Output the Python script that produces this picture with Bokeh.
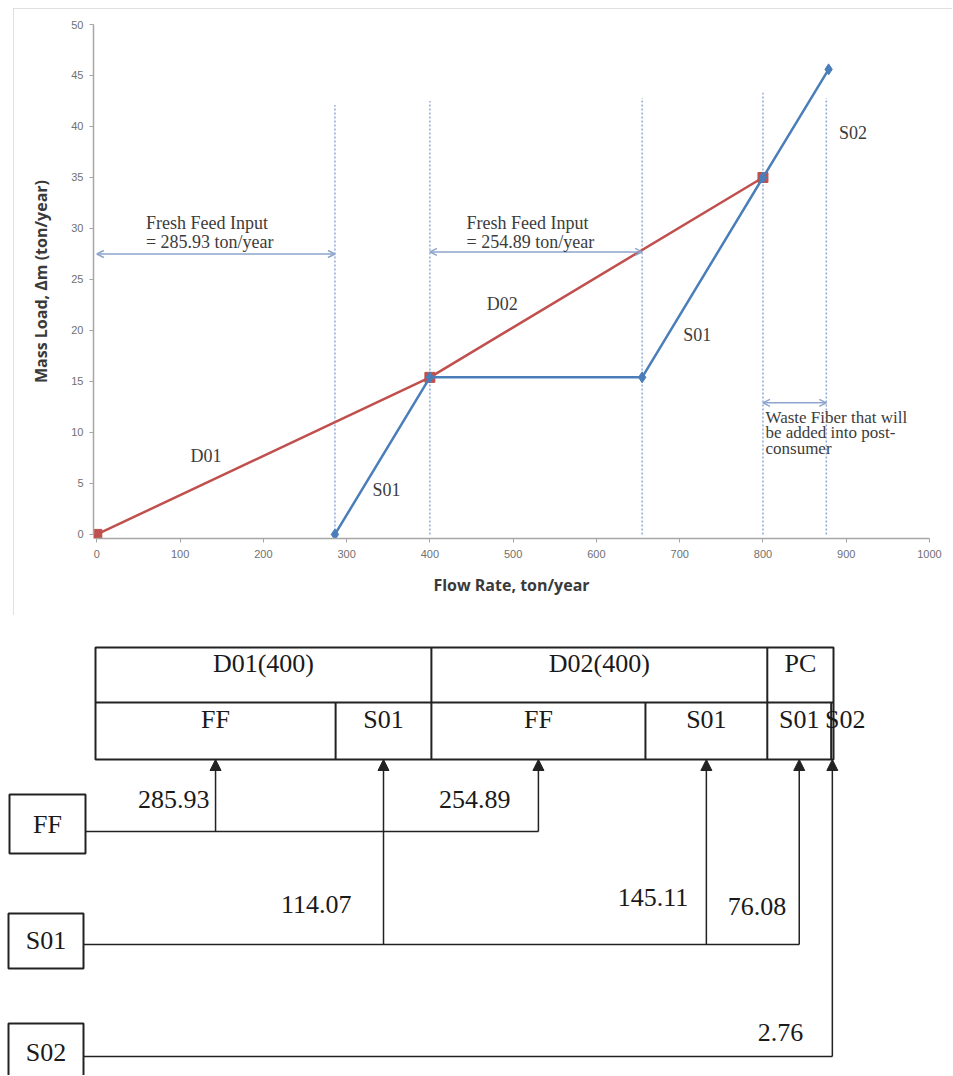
import numpy as np
from bokeh.plotting import figure
from bokeh.models import Range1d, Arrow, OpenHead, NormalHead, Label, FixedTicker
from bokeh.layouts import column
from bokeh.embed import file_html
from bokeh.resources import INLINE
from bokeh.core.properties import value

# ---------------- data: mass-load / flow-rate diagram ----------------
demand_flow = [0, 400, 800]
demand_load = [0, 15.4, 35.0]
source_flow = [285.93, 400, 654.89, 800, 878.84]
source_load = [0, 15.4, 15.4, 35.0, 45.6]
pinch_flow = [285.93, 400, 654.89, 800, 876.08]
pinch_top = [42.1, 42.5, 42.8, 43.3, 42.8]
x_ticks = [0, 100, 200, 300, 400, 500, 600, 700, 800, 900, 1000]
y_ticks = [0, 5, 10, 15, 20, 25, 30, 35, 40, 45, 50]
fresh_feed = [285.93, 254.89]
waste_span = [800, 876.08]

# ---------------- data: allocation diagram ----------------
cell_labels = ["FF", "S01", "FF", "S01", "S01", "S02"]
cell_flows = [285.93, 114.07, 254.89, 145.11, 76.08, 2.76]
unit_labels = ["D01(400)", "D02(400)", "PC"]
unit_flows = [400, 400, 78.84]
source_labels = ["FF", "S01", "S02"]

# ---------------- styles ----------------
RED = "#C0504D"
BLUE = "#4A7EBB"
GUIDE = "#8FA9D6"
ARR = "#8EA5CE"
TXT = "#3c3c3c"
AX = "#a6a6a6"
SERIF = "Liberation Serif"

# ================= top chart =================
p = figure(width=939, height=607, x_range=Range1d(-4, 1000), y_range=Range1d(-0.4, 50),
           output_backend="svg", toolbar_location=None,
           min_border_left=80, min_border_right=23, min_border_top=16, min_border_bottom=77,
           margin=(8, 0, 0, 13), frame_align=False)
p.styles = {"outline": "2px solid #d6d6d6", "outline-offset": "-2px"}
p.outline_line_color = None
p.xgrid.visible = False
p.ygrid.visible = False
p.xaxis.ticker = FixedTicker(ticks=x_ticks)
p.yaxis.ticker = FixedTicker(ticks=y_ticks)
p.xaxis.bounds = (x_ticks[0], x_ticks[-1])
p.yaxis.bounds = (y_ticks[0], y_ticks[-1])
for ax in (p.xaxis[0], p.yaxis[0]):
    ax.axis_line_color = AX
    ax.axis_line_width = 1.5
    ax.major_tick_line_color = AX
    ax.major_tick_out = 4
    ax.major_tick_in = 0
    ax.minor_tick_line_color = None
    ax.major_label_text_font = "Liberation Sans"
    ax.major_label_text_font_size = "11px"
    ax.major_label_text_color = "#707070"
    ax.axis_label_text_font = "Open Sans"
    ax.axis_label_text_font_style = "bold"
    ax.axis_label_text_font_size = "16px"
    ax.axis_label_text_color = "#3a3a3a"
p.xaxis.axis_label = "Flow Rate, ton/year"
p.yaxis.axis_label = "Mass Load, \u0394m (ton/year)"
p.xaxis.major_label_standoff = 7
p.xaxis.axis_label_standoff = 13
p.yaxis.major_label_standoff = 6
p.yaxis.axis_label_standoff = 16

# vertical guide lines
p.segment(x0=pinch_flow, y0=[0] * len(pinch_flow), x1=pinch_flow, y1=pinch_top,
          line_color=GUIDE, line_width=1.5, line_dash="2 2")

# composite curves
p.line(demand_flow, demand_load, line_color=RED, line_width=2.5)
p.scatter(demand_flow, demand_load, marker="square", size=10, fill_color=RED, line_color=RED)
p.line(source_flow, source_load, line_color=BLUE, line_width=2.5)
p.scatter(source_flow, source_load, marker="diamond", size=11, fill_color=BLUE, line_color=BLUE)

# double-headed arrows
spans = [(0, fresh_feed[0], 27.5),
         (demand_flow[1], demand_flow[1] + fresh_feed[1], 27.7),
         (waste_span[0], waste_span[1], 12.9)]
for xa, xb, yy in spans:
    p.add_layout(Arrow(start=OpenHead(size=7, line_color=ARR, line_width=1.5),
                       end=OpenHead(size=7, line_color=ARR, line_width=1.5),
                       x_start=xa, y_start=yy, x_end=xb, y_end=yy,
                       line_color=ARR, line_width=1.5))


def lab(x, y, t, align="left", size="18px"):
    p.add_layout(Label(x=x, y=y, text=t, text_font=SERIF, text_font_size=size,
                       text_color=TXT, text_align=align, text_baseline="middle"))


lab(59, 30.5, "Fresh Feed Input")
lab(59, 28.7, f"= {fresh_feed[0]} ton/year")
lab(444, 30.5, "Fresh Feed Input")
lab(444, 28.7, f"= {fresh_feed[1]} ton/year")
lab(131, 7.7, "D01", "center")
lab(348, 4.4, "S01", "center")
lab(487, 22.6, "D02", "center")
lab(721, 19.6, "S01", "center")
lab(908, 39.4, "S02", "center")
lab(803, 11.5, "Waste Fiber that will", size="17px")
lab(803, 10.0, "be added into post-", size="17px")
lab(803, 8.4, "consumer", size="17px")

# ================= allocation diagram =================
total = float(sum(cell_flows))
edges = np.concatenate([[0.0], np.cumsum(cell_flows)])
unit_edges = np.concatenate([[0.0], np.cumsum(unit_flows)])

# layout anchors (page pixels)
PX_TL, PX_TR = 95, 833
FIG_L, FIG_R = 0, 952
FIG_T, FIG_B = 615, 1075
k = (PX_TR - PX_TL) / total


def u(px):
    return (px - PX_TL) / k


d = figure(width=FIG_R - FIG_L, height=FIG_B - FIG_T,
           x_range=Range1d(u(FIG_L), u(FIG_R)), y_range=Range1d(FIG_B, FIG_T),
           x_axis_type=None, y_axis_type=None, output_backend="svg", toolbar_location=None,
           min_border=0, frame_align=False)
d.outline_line_color = None
LINE = "#222222"
DTXT = "#1a1a1a"
T_TOP, T_MID, T_BOT = 647, 702, 759

d.quad(left=[0], right=[total], top=[T_TOP], bottom=[T_BOT], fill_color=None,
       line_color=LINE, line_width=2)
d.segment(x0=[0], y0=[T_MID], x1=[total], y1=[T_MID], line_color=LINE, line_width=2)
ue = list(unit_edges[1:-1])
d.segment(x0=ue, y0=[T_TOP] * len(ue), x1=ue, y1=[T_BOT] * len(ue), line_color=LINE, line_width=2)
inner = [e for e in edges[1:-1] if not np.any(np.isclose(e, unit_edges))]
d.segment(x0=inner, y0=[T_MID] * len(inner), x1=inner, y1=[T_BOT] * len(inner),
          line_color=LINE, line_width=2)

unit_centers = list((unit_edges[:-1] + unit_edges[1:]) / 2)
cell_centers = list((edges[:-1] + edges[1:]) / 2)
tf = dict(text_font=value(SERIF), text_font_size=value("26px"), text_color=DTXT,
          text_baseline="middle")
d.text(x=unit_centers, y=[663] * len(unit_centers), text=unit_labels, text_align="center", **tf)
d.text(x=cell_centers, y=[719] * len(cell_centers), text=cell_labels, text_align="center",
       x_offset=[0, 0, 0, 0, 0, 13], **tf)

# source boxes
box_px = {"FF": (9, 85, 794, 853), "S01": (8, 83, 913, 968), "S02": (8, 83, 1023, 1100)}
text_y = {"FF": 824, "S01": 940, "S02": 1052}
line_y = {"FF": 831, "S01": 944, "S02": 1056}
for s in source_labels:
    l, r, t, b = box_px[s]
    d.quad(left=[u(l)], right=[u(r)], top=[t], bottom=[b], fill_color=None,
           line_color=LINE, line_width=2)
    d.text(x=[u((l + r) / 2)], y=[text_y[s]], text=[s], text_align="center", **tf)
    xs = [c for c, n in zip(cell_centers, cell_labels) if n == s]
    d.segment(x0=[u(r)], y0=[line_y[s]], x1=[max(xs)], y1=[line_y[s]], line_color=LINE,
              line_width=1.5)

for c, n in zip(cell_centers, cell_labels):
    d.add_layout(Arrow(end=NormalHead(size=11, fill_color=LINE, line_color=LINE),
                       x_start=c, y_start=line_y[n], x_end=c, y_end=T_BOT,
                       line_color=LINE, line_width=1.5))

val_y = [799, 904, 799, 897, 906, 1032]
val_dx = [-6, -32, -28, -18, -13, -29]
d.text(x=cell_centers, y=val_y, text=[f"{v:.2f}" for v in cell_flows], text_align="right",
       x_offset=val_dx, **tf)

layout = column(p, d, spacing=0)
open("out.html", "w").write(file_html(layout, INLINE))
